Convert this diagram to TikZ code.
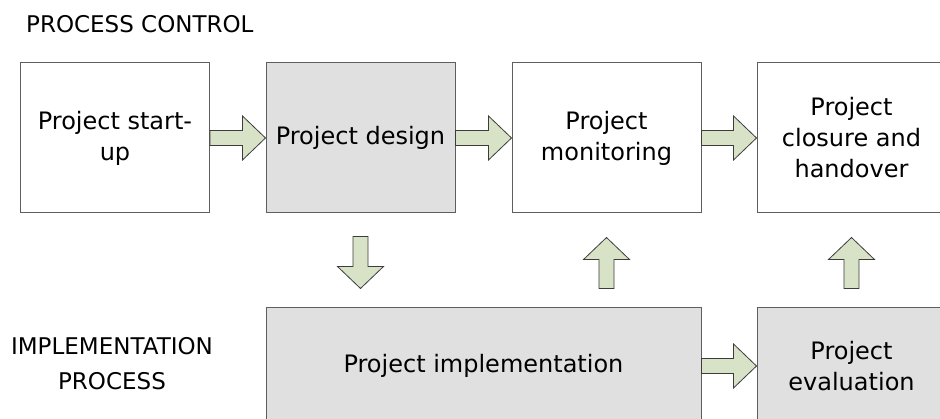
\documentclass[tikz,border=0pt]{standalone}
\usepackage{fontspec}
\setmainfont{DejaVu Sans}
\usetikzlibrary{calc}
\definecolor{boxgray}{HTML}{E0E0E0}
\definecolor{arrowfill}{HTML}{D8E2C6}
\definecolor{boxline}{HTML}{5E5E5E}
\definecolor{arrowline}{HTML}{3C3C3C}
\tikzset{
  box/.style={draw=boxline, line width=1pt, minimum width=189pt, minimum height=150pt,
    align=center, inner sep=2pt, font=\fontsize{24}{31}\selectfont},
  shaded/.style={fill=boxgray},
  blk/.style={fill=arrowfill, draw=arrowline, line width=0.8pt, line join=miter},
  lbl/.style={font=\fontsize{23}{35}\selectfont, align=center, inner sep=0pt}
}
% horizontal block arrow from #1 (tail) to #2 (tip), pointing right
\newcommand\hblk[2]{%
  \filldraw[blk] let \p1=(#1), \p2=(#2) in
    (\x1,\y1+7.5pt) -- (\x2-23pt,\y1+7.5pt) -- (\x2-23pt,\y1+22pt) -- (\x2,\y1)
    -- (\x2-23pt,\y1-22pt) -- (\x2-23pt,\y1-7.5pt) -- (\x1,\y1-7.5pt) -- cycle;}
% vertical block arrow pointing down: #1 tail (top), #2 tip (bottom)
\newcommand\dblk[2]{%
  \filldraw[blk] let \p1=(#1), \p2=(#2) in
    (\x1-7.5pt,\y1) -- (\x1-7.5pt,\y2+22pt) -- (\x1-23pt,\y2+22pt) -- (\x1,\y2)
    -- (\x1+23pt,\y2+22pt) -- (\x1+7.5pt,\y2+22pt) -- (\x1+7.5pt,\y1) -- cycle;}
% vertical block arrow pointing up: #1 tail (bottom), #2 tip (top)
\newcommand\ublk[2]{%
  \filldraw[blk] let \p1=(#1), \p2=(#2) in
    (\x1-7.5pt,\y1) -- (\x1-7.5pt,\y2-22pt) -- (\x1-23pt,\y2-22pt) -- (\x1,\y2)
    -- (\x1+23pt,\y2-22pt) -- (\x1+7.5pt,\y2-22pt) -- (\x1+7.5pt,\y1) -- cycle;}
\begin{document}
\begin{tikzpicture}[x=1pt, y=-1pt]
  \useasboundingbox (0,0) rectangle (940,419);
  \clip (0,0) rectangle (940,419);

  \node[lbl, anchor=west] (pc) at (26,24) {PROCESS CONTROL};
  \node[lbl] (ip) at (112,364) {IMPLEMENTATION\\PROCESS};

  \node[box] (start) at (115,138) {Project start-\\up};
  \node[box, shaded] (design) at (360.5,138) {Project design};
  \node[box] (mon) at (606.5,138) {Project\\monitoring};
  \node[box] (close) at (851.5,138) {Project\\closure and\\handover};

  \node[box, shaded, minimum width=435pt, minimum height=116pt] (impl) at (483.5,366) {Project implementation};
  \node[box, shaded, minimum height=116pt] (eval) at (851.5,366) {Project\\evaluation};

  \coordinate (dT) at ($(design.south)+(0,23)$);
  \coordinate (dH) at ($(impl.north -| design.south)+(0,-19)$);
  \coordinate (u1T) at ($(impl.north -| mon.south)+(0,-19)$);
  \coordinate (u1H) at ($(mon.south)+(0,24)$);
  \coordinate (u2T) at ($(eval.north)+(0,-19)$);
  \coordinate (u2H) at ($(close.south)+(0,24)$);

  \hblk{start.east}{design.west}
  \hblk{design.east}{mon.west}
  \hblk{mon.east}{close.west}
  \hblk{impl.east}{eval.west}
  \dblk{dT}{dH}
  \ublk{u1T}{u1H}
  \ublk{u2T}{u2H}
\end{tikzpicture}
\end{document}
